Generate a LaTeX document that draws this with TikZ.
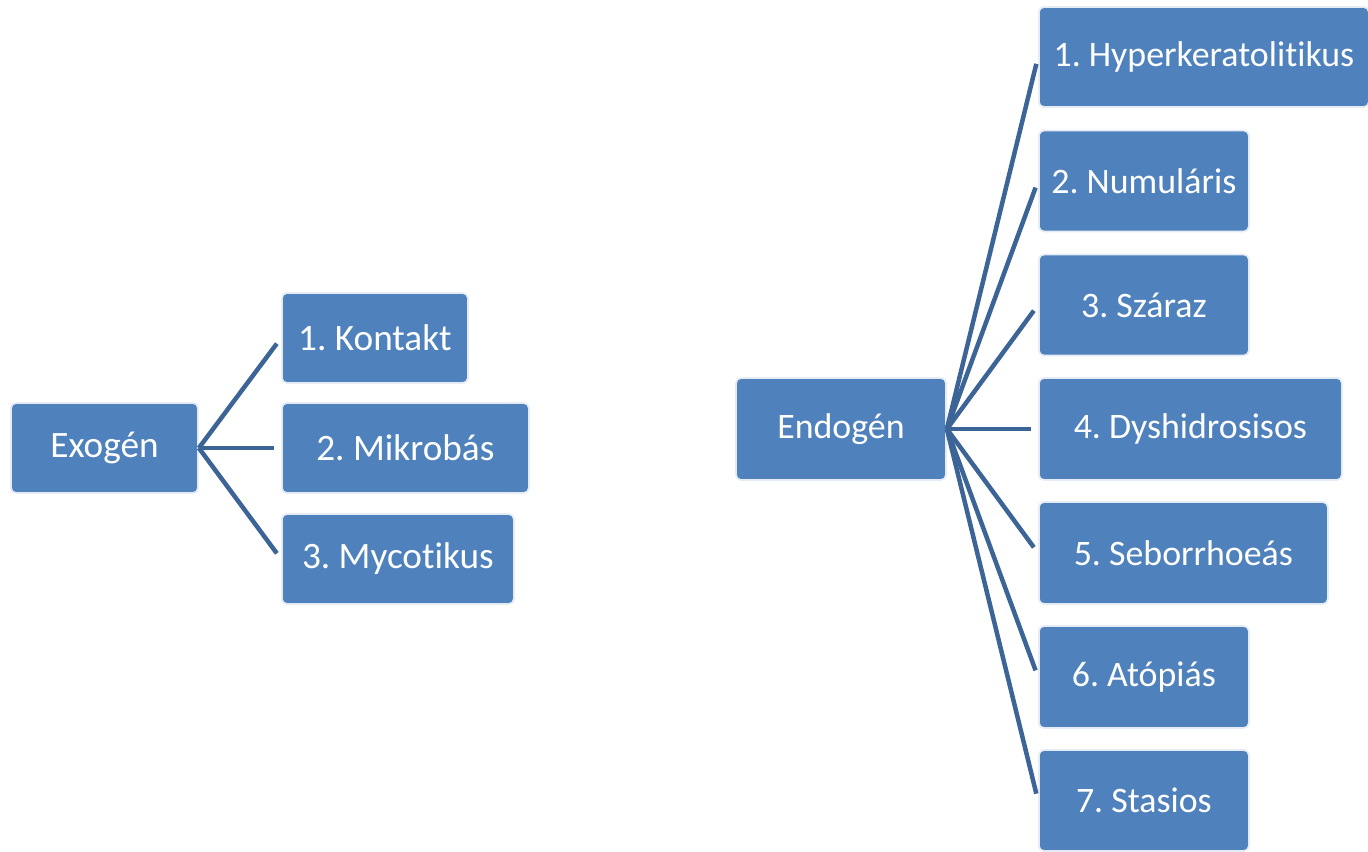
\documentclass[tikz,border=0pt]{standalone}
\usepackage{fontspec}
\setmainfont{Carlito}[Ligatures=NoCommon]
\frenchspacing
\definecolor{boxblue}{HTML}{4F81BD}
\definecolor{linkblue}{HTML}{3C6496}
\tikzset{
  kind/.style={rectangle,rounded corners=0.05cm,fill=boxblue,draw=white!85!boxblue,
    line width=0.5pt,text=white,inner sep=0pt,
    font=\fontsize{10.2}{12}\selectfont},
  bigkind/.style={kind,font=\fontsize{10.6}{12}\selectfont},
  link/.style={draw=linkblue,line width=0.045cm,shorten >=0.07cm}
}
\begin{document}
\begin{tikzpicture}
   \useasboundingbox (0,0) rectangle (13.68,8.51);
   % exogen
   \node[bigkind,minimum width=1.87cm,minimum height=0.90cm] (exo) at (1.045,4.03) {Exogén};
   \node[bigkind,minimum width=1.86cm,minimum height=0.90cm,anchor=west] (kontakt) at (2.81,5.13) {1. Kontakt};
   \node[bigkind,minimum width=2.47cm,minimum height=0.90cm,anchor=west] (mikrobas) at (2.81,4.03) {2. Mikrobás};
   \node[bigkind,minimum width=2.32cm,minimum height=0.90cm,anchor=west] (mycotikus) at (2.81,2.92) {3. Mycotikus};
   \foreach \n in {kontakt,mikrobas,mycotikus}
      \draw[link] (exo.east) -- (\n.west);
   % endogen
   \node[kind,minimum width=2.10cm,minimum height=1.02cm] (endo) at (8.41,4.22) {Endogén};
   \node[kind,minimum width=3.30cm,minimum height=1.00cm,anchor=west] (hyper) at (10.38,7.94) {1. Hyperkeratolitikus};
   \node[kind,minimum width=2.10cm,minimum height=1.01cm,anchor=west] (numularis) at (10.38,6.70) {2. Numuláris};
   \node[kind,minimum width=2.10cm,minimum height=1.01cm,anchor=west] (szaraz) at (10.38,5.46) {3. Száraz};
   \node[kind,minimum width=3.03cm,minimum height=1.02cm,anchor=west] (dyshid) at (10.38,4.22) {4. Dyshidrosisos};
   \node[kind,minimum width=2.89cm,minimum height=1.02cm,anchor=west] (seborr) at (10.38,2.98) {5. Seborrhoeás};
   \node[kind,minimum width=2.10cm,minimum height=1.02cm,anchor=west] (atopias) at (10.38,1.74) {6. Atópiás};
   \node[kind,minimum width=2.10cm,minimum height=1.01cm,anchor=west] (stasios) at (10.38,0.505) {7. Stasios};
   \foreach \n in {hyper,numularis,szaraz,dyshid,seborr,atopias,stasios}
      \draw[link] (endo.east) -- (\n.west);
\end{tikzpicture}
\end{document}
